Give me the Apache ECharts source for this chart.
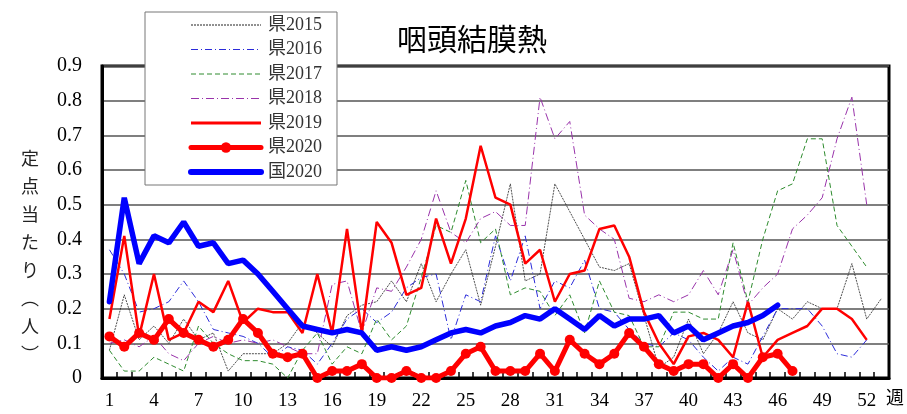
<!DOCTYPE html>
<html>
<head>
<meta charset="utf-8">
<script src="https://cdn.jsdelivr.net/npm/echarts@6/dist/echarts.min.js"></script>
<style>
  html, body { margin: 0; padding: 0; background: #fff; }
  #chart { width: 907px; height: 414px; }
</style>
</head>
<body>
<div id="chart"></div>
<script>
// 週 (1〜53)
const weeks = ['1','2','3','4','5','6','7','8','9','10','11','12','13','14','15','16','17','18','19','20',
  '21','22','23','24','25','26','27','28','29','30','31','32','33','34','35','36','37','38','39','40',
  '41','42','43','44','45','46','47','48','49','50','51','52','53'];

// 定点当たり報告数
const ken2015 = [0.08,0.24,0.11,0.15,0.10,0.17,0.11,0.13,0.02,0.07,0.07,0.07,0.10,0.16,0.13,0.09,0.18,0.21,0.22,0.28,
  0.22,0.33,0.22,0.30,0.37,0.21,0.38,0.56,0.28,0.30,0.56,0.48,0.40,0.32,0.31,0.33,0.18,0.03,0.06,0.17,
  0.07,0.13,0.22,0.13,0.11,0.20,0.17,0.22,0.20,0.20,0.33,0.17,0.23];
const ken2016 = [0.37,0.30,0.19,0.20,0.22,0.28,0.22,0.14,0.13,0.12,0.10,0.06,0.09,0.08,0.04,0.10,0.17,0.20,0.16,0.19,
  0.26,0.29,0.30,0.11,0.24,0.22,0.41,0.28,0.41,0.20,0.28,0.26,0.34,0.20,0.19,0.14,0.10,0.09,0.13,0.11,
  0.06,0.02,0.06,0.04,0.12,0.20,0.20,0.20,0.15,0.07,0.06,0.11];
const ken2017 = [0.08,0.02,0.02,0.06,0.04,0.02,0.15,0.10,0.07,0.05,0.05,0.04,0.00,0.08,0.13,0.04,0.09,0.07,0.17,0.11,
  0.15,0.29,0.44,0.42,0.57,0.39,0.43,0.24,0.26,0.25,0.18,0.24,0.13,0.28,0.19,0.18,0.09,0.09,0.19,0.19,
  0.17,0.17,0.39,0.22,0.40,0.54,0.56,0.69,0.69,0.44,0.38,0.32];
const ken2018 = [0.10,0.11,0.09,0.12,0.07,0.05,0.10,0.12,0.10,0.11,0.10,0.11,0.09,0.07,0.07,0.27,0.28,0.13,0.26,0.25,
  0.32,0.40,0.54,0.42,0.39,0.46,0.48,0.44,0.44,0.81,0.69,0.74,0.47,0.43,0.40,0.23,0.22,0.24,0.22,0.24,
  0.31,0.24,0.37,0.21,0.26,0.30,0.43,0.47,0.52,0.69,0.81,0.50];
const ken2019 = [0.17,0.41,0.12,0.30,0.11,0.13,0.22,0.19,0.28,0.16,0.20,0.19,0.19,0.13,0.30,0.13,0.43,0.13,0.45,0.39,
  0.24,0.26,0.46,0.33,0.46,0.67,0.52,0.50,0.33,0.37,0.22,0.30,0.31,0.43,0.44,0.35,0.19,0.10,0.04,0.12,
  0.13,0.11,0.06,0.22,0.06,0.11,0.13,0.15,0.20,0.20,0.17,0.11];
const ken2020 = [0.12,0.09,0.13,0.11,0.17,0.13,0.11,0.09,0.11,0.17,0.13,0.07,0.06,0.07,0.00,0.02,0.02,0.04,0.00,0.00,
  0.02,0.00,0.00,0.02,0.07,0.09,0.02,0.02,0.02,0.07,0.02,0.11,0.07,0.04,0.07,0.13,0.09,0.04,0.02,0.04,
  0.04,0.00,0.04,0.00,0.06,0.07,0.02];
const kuni2020 = [0.22,0.52,0.33,0.41,0.39,0.45,0.38,0.39,0.33,0.34,0.30,0.25,0.20,0.15,0.14,0.13,0.14,0.13,0.08,0.09,
  0.08,0.09,0.11,0.13,0.14,0.13,0.15,0.16,0.18,0.17,0.20,0.17,0.14,0.18,0.15,0.17,0.17,0.18,0.13,0.15,
  0.11,0.13,0.15,0.16,0.18,0.21];

const FONT = "'Liberation Serif', 'Noto Sans CJK JP', serif";

// 細線 (過去年) の共通設定
function thinLine(name, data, color, dash, width){
  return {
    name: name,
    type: 'line',
    data: data,
    symbol: 'none',
    lineStyle: { color: color, width: width, type: dash },
    itemStyle: { color: color },
    silent: true
  };
}

let option = {
  animation: false,
  textStyle: { fontFamily: FONT },
  title: {
    text: '咽頭結膜熱',
    left: 392,
    top: 22,
    textStyle: { fontFamily: FONT, fontSize: 30, fontWeight: 'normal', color: '#000' }
  },
  legend: {
    orient: 'vertical',
    left: 145,
    top: 12,
    padding: [4, 15, 4, 43],
    itemWidth: 70,
    itemHeight: 13,
    itemGap: 6.5,
    backgroundColor: '#fff',
    borderColor: '#777',
    borderWidth: 1,
    // 凡例の記号は 県2020 だけ表示
    itemStyle: { opacity: 0 },
    lineStyle: { width: 1 },
    textStyle: { fontFamily: FONT, fontSize: 18, lineHeight: 18, color: '#333', padding: [0, 0, 0, 2] },
    data: [
      '県2015', '県2016', '県2017', '県2018',
      { name: '県2019', lineStyle: { width: 3 } },
      { name: '県2020', itemStyle: { opacity: 1 }, lineStyle: { width: 5, cap: 'round' } },
      { name: '国2020', lineStyle: { width: 6, cap: 'round' } }
    ]
  },
  grid: {
    left: 102, right: 15, top: 66, bottom: 36,
    show: true,
    borderColor: '#000',
    borderWidth: 3
  },
  graphic: [{
    type: 'text',
    left: 21,
    top: 144,
    style: {
      text: '定\n点\n当\nた\nり\n︵\n人\n︶',
      font: "18px 'Noto Sans CJK JP', sans-serif",
      lineHeight: 28,
      fill: '#222'
    }
  }],
  xAxis: {
    type: 'category',
    data: weeks,
    boundaryGap: true,
    name: '週',
    nameLocation: 'end',
    nameGap: -3,
    nameTextStyle: { fontFamily: FONT, fontSize: 18, color: '#000', verticalAlign: 'top', padding: [12, 0, 0, 0] },
    axisLine: { lineStyle: { color: '#000', width: 3 } },
    axisTick: { show: true, inside: true, length: 6, interval: 0, lineStyle: { color: '#000', width: 1.5 } },
    axisLabel: { interval: 2, margin: 14, fontFamily: FONT, fontSize: 19, color: '#000' },
    splitLine: { show: false }
  },
  yAxis: {
    type: 'value',
    min: 0,
    max: 0.9,
    interval: 0.1,
    axisLine: { show: true, lineStyle: { color: '#000', width: 3 } },
    axisTick: { show: false },
    axisLabel: { margin: 20, fontFamily: FONT, fontSize: 20, color: '#000' },
    splitLine: { show: true, lineStyle: { color: '#555', width: 1.5 } }
  },
  series: [
    thinLine('県2015', ken2015, '#222', [2, 1], 0.8),
    thinLine('県2016', ken2016, '#2b2bd9', [7, 3, 1, 3], 1),
    thinLine('県2017', ken2017, '#2e8b2e', [5, 3], 1),
    thinLine('県2018', ken2018, '#9933aa', [8, 3, 1, 3], 1),
    {
      name: '県2019', type: 'line', data: ken2019, symbol: 'none',
      lineStyle: { color: '#ff0000', width: 2.5 }, itemStyle: { color: '#ff0000' }
    },
    {
      name: '県2020', type: 'line', data: ken2020,
      symbol: 'circle', symbolSize: 10, showAllSymbol: true,
      lineStyle: { color: '#ff0000', width: 5 }, itemStyle: { color: '#ff0000' }
    },
    {
      name: '国2020', type: 'line', data: kuni2020, symbol: 'none',
      lineStyle: { color: '#0000ff', width: 5.5, cap: 'round' }, itemStyle: { color: '#0000ff' }
    }
  ]
};

let myChart = echarts.init(document.getElementById('chart'));
myChart.setOption(option);
</script>
</body>
</html>
